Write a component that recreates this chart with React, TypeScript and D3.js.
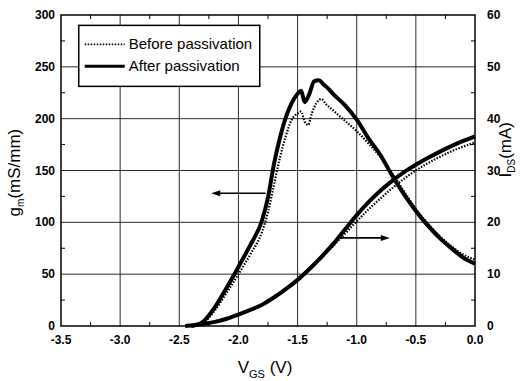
import { useEffect, useRef } from "react";
import * as d3 from "d3";

// gm (left axis, mS/mm) vs VGS
const gmAfterV = [-2.4, -2.3, -2.2, -2.1, -2.0, -1.9, -1.8, -1.75, -1.7, -1.65, -1.6, -1.55, -1.5, -1.47, -1.44, -1.4, -1.36, -1.32, -1.28, -1.24, -1.2, -1.1, -1.0, -0.9, -0.8, -0.7, -0.6, -0.5, -0.4, -0.3, -0.2, -0.1, 0.0];
const gmAfter = [0, 4, 18, 37, 57, 78, 102, 124, 156, 181, 201, 215, 224, 227, 216, 224, 236, 237, 233, 229, 224, 213, 199, 181, 165, 145, 127, 111, 97, 85, 75, 66, 60];

const gmBeforeV = [-2.4, -2.3, -2.2, -2.1, -2.0, -1.9, -1.8, -1.75, -1.7, -1.65, -1.6, -1.55, -1.5, -1.47, -1.44, -1.41, -1.38, -1.34, -1.3, -1.26, -1.22, -1.15, -1.1, -1.0, -0.9, -0.8, -0.7, -0.6, -0.5, -0.4, -0.3, -0.2, -0.1, 0.0];
const gmBefore = [0, 3, 15, 32, 50, 69, 91, 110, 136, 162, 183, 199, 205, 207, 197, 194, 205, 215, 219, 214, 210, 203, 198, 188, 176, 163, 147, 130, 113, 99, 87, 77, 69, 64];

// IDS (right axis, mA) vs VGS
const idsV = [-2.45, -2.3, -2.2, -2.1, -2.0, -1.9, -1.8, -1.7, -1.6, -1.5, -1.4, -1.3, -1.2, -1.1, -1.0, -0.9, -0.8, -0.7, -0.6, -0.5, -0.4, -0.3, -0.2, -0.1, 0.0];
const idsAfter = [0, 0.4, 0.8, 1.4, 2.2, 3.1, 4.1, 5.5, 7.1, 8.9, 11.0, 13.3, 15.8, 18.6, 21.4, 23.9, 26.1, 28.0, 29.7, 31.1, 32.4, 33.6, 34.7, 35.7, 36.6];
const idsBefore = [0, 0.4, 0.8, 1.4, 2.2, 3.1, 4.1, 5.5, 7.1, 8.9, 10.9, 13.1, 15.4, 17.8, 20.2, 22.5, 24.6, 26.6, 28.4, 30.0, 31.4, 32.6, 33.7, 34.6, 35.4];

const xTicks = [-3.5, -3.0, -2.5, -2.0, -1.5, -1.0, -0.5, 0.0];
const gmTicks = [0, 50, 100, 150, 200, 250, 300];
const idsTicks = [0, 10, 20, 30, 40, 50, 60];
const legendLabels = ["Before passivation", "After passivation"];

const W = 521;
const H = 381;
const FONT = "'Liberation Sans', Arial, Helvetica, sans-serif";

export default function App() {
  const svgRef = useRef<SVGSVGElement | null>(null);

  useEffect(() => {
    const svg = d3.select(svgRef.current);
    svg.selectAll("*").remove();

    const margin = { top: 15, right: 46, bottom: 55, left: 61 };
    const w = W - margin.left - margin.right;
    const h = H - margin.top - margin.bottom;

    const g = svg
      .append("g")
      .attr("transform", `translate(${margin.left},${margin.top})`)
      .attr("font-family", FONT);

    const x = d3.scaleLinear().domain([-3.5, 0]).range([0, w]);
    const yL = d3.scaleLinear().domain([0, 300]).range([h, 0]);
    const yR = d3.scaleLinear().domain([0, 60]).range([h, 0]);

    // grid
    g.append("g")
      .selectAll("line")
      .data(xTicks.slice(1, -1))
      .join("line")
      .attr("x1", (d) => x(d))
      .attr("x2", (d) => x(d))
      .attr("y1", 0)
      .attr("y2", h)
      .attr("stroke", "#111")
      .attr("stroke-width", 0.9);
    g.append("g")
      .selectAll("line")
      .data(gmTicks.slice(1, -1))
      .join("line")
      .attr("x1", 0)
      .attr("x2", w)
      .attr("y1", (d) => yL(d))
      .attr("y2", (d) => yL(d))
      .attr("stroke", "#111")
      .attr("stroke-width", 0.9);

    // minor ticks (inward)
    const xMinor = d3.range(-3.25, 0, 0.5);
    const yMinor = d3.range(25, 300, 50);
    const tl = 4;
    xMinor.forEach((v) => {
      g.append("line").attr("x1", x(v)).attr("x2", x(v)).attr("y1", h).attr("y2", h - tl).attr("stroke", "#000");
      g.append("line").attr("x1", x(v)).attr("x2", x(v)).attr("y1", 0).attr("y2", tl).attr("stroke", "#000");
    });
    yMinor.forEach((v) => {
      g.append("line").attr("x1", 0).attr("x2", tl).attr("y1", yL(v)).attr("y2", yL(v)).attr("stroke", "#000");
      g.append("line").attr("x1", w).attr("x2", w - tl).attr("y1", yL(v)).attr("y2", yL(v)).attr("stroke", "#000");
    });

    // frame
    g.append("rect")
      .attr("width", w)
      .attr("height", h)
      .attr("fill", "none")
      .attr("stroke", "#000")
      .attr("stroke-width", 1.5);

    // tick labels
    g.append("g")
      .selectAll("text")
      .data(xTicks)
      .join("text")
      .attr("x", (d) => x(d))
      .attr("y", h + 18)
      .attr("text-anchor", "middle")
      .attr("font-size", 12)
      .attr("font-weight", "bold")
      .text((d) => d.toFixed(1));
    g.append("g")
      .selectAll("text")
      .data(gmTicks)
      .join("text")
      .attr("x", -6)
      .attr("y", (d) => yL(d) + 4)
      .attr("text-anchor", "end")
      .attr("font-size", 12)
      .attr("font-weight", "bold")
      .text((d) => d);
    g.append("g")
      .selectAll("text")
      .data(idsTicks)
      .join("text")
      .attr("x", w + 12)
      .attr("y", (d) => yR(d) + 4)
      .attr("text-anchor", "start")
      .attr("font-size", 12)
      .attr("font-weight", "bold")
      .text((d) => d);

    // curves
    const line = (xs: number[], ys: number[], yScale: d3.ScaleLinear<number, number>) =>
      d3
        .line<number>()
        .x((_, i) => x(xs[i]))
        .y((d) => yScale(d))
        .curve(d3.curveMonotoneX)(ys);

    const curves = [
      { xs: gmBeforeV, ys: gmBefore, s: yL, dotted: true },
      { xs: idsV, ys: idsBefore, s: yR, dotted: true },
      { xs: gmAfterV, ys: gmAfter, s: yL, dotted: false },
      { xs: idsV, ys: idsAfter, s: yR, dotted: false },
    ];
    curves.forEach((c) => {
      g.append("path")
        .attr("d", line(c.xs, c.ys, c.s))
        .attr("fill", "none")
        .attr("stroke", "#000")
        .attr("stroke-width", c.dotted ? 2.2 : 4)
        .attr("stroke-dasharray", c.dotted ? "1.5 1.5" : null)
        .attr("stroke-linejoin", "round");
    });

    // direction arrows
    const arrow = (x1: number, x2: number, yy: number) => {
      const dir = Math.sign(x2 - x1);
      g.append("line")
        .attr("x1", x1)
        .attr("x2", x2 - dir * 6)
        .attr("y1", yy)
        .attr("y2", yy)
        .attr("stroke", "#000")
        .attr("stroke-width", 1.6);
      g.append("path")
        .attr("d", `M${x2},${yy}L${x2 - dir * 9},${yy - 3}L${x2 - dir * 9},${yy + 3}Z`)
        .attr("fill", "#000");
    };
    arrow(x(-1.77), x(-2.23), yL(128));
    arrow(x(-1.15), x(-0.72), yR(17));

    // legend
    const lg = g.append("g").attr("transform", `translate(${x(-3.35)},${yL(290)})`);
    lg.append("rect")
      .attr("width", 181)
      .attr("height", 61)
      .attr("fill", "#fff")
      .attr("stroke", "#000")
      .attr("stroke-width", 1.5);
    legendLabels.forEach((lab, i) => {
      const yy = 19 + i * 22;
      lg.append("line")
        .attr("x1", 6)
        .attr("x2", 46)
        .attr("y1", yy)
        .attr("y2", yy)
        .attr("stroke", "#000")
        .attr("stroke-width", i === 0 ? 1.8 : 3)
        .attr("stroke-dasharray", i === 0 ? "1.5 1.5" : null);
      lg.append("text")
        .attr("x", 50)
        .attr("y", yy + 5)
        .attr("font-size", 15)
        .text(lab);
    });

    // axis titles
    const xt = g.append("text")
      .attr("x", w / 2 - 3)
      .attr("y", h + 47)
      .attr("text-anchor", "middle")
      .attr("font-size", 17);
    xt.append("tspan").text("V");
    xt.append("tspan").attr("font-size", 11).attr("dy", 5).text("GS");
    xt.append("tspan").attr("dy", -5).text(" (V)");

    const lt = g.append("text")
      .attr("transform", `translate(${-41},${yL(148)}) rotate(-90)`)
      .attr("text-anchor", "middle")
      .attr("font-size", 17);
    lt.append("tspan").text("g");
    lt.append("tspan").attr("font-size", 10).attr("dy", 4).text("m");
    lt.append("tspan").attr("dy", -4).text("(mS/mm)");

    const rt = g.append("text")
      .attr("transform", `translate(${w + 36},${yR(34)}) rotate(-90)`)
      .attr("text-anchor", "middle")
      .attr("font-size", 17);
    rt.append("tspan").text("I");
    rt.append("tspan").attr("font-size", 10).attr("dy", 4).text("DS");
    rt.append("tspan").attr("dy", -4).text("(mA)");
  }, []);

  return (
    <svg
      ref={svgRef}
      width={W}
      height={H}
      viewBox={`0 0 ${W} ${H}`}
      style={{ position: "absolute", left: 0, top: 0, background: "#fff" }}
    />
  );
}
